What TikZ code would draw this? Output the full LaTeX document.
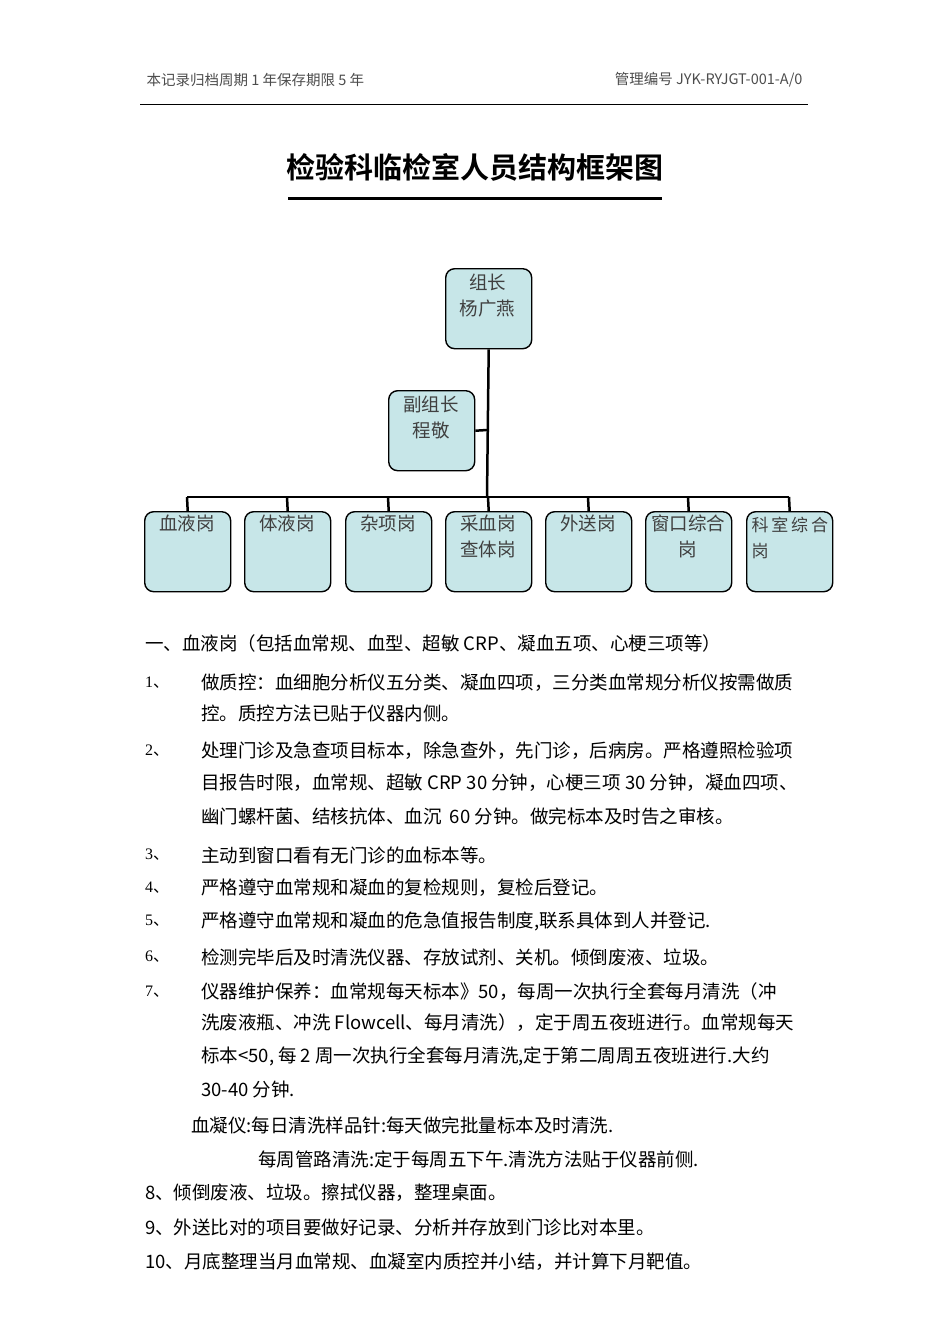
\documentclass[tikz,border=0pt]{standalone}
\usepackage{fontspec}
\newfontfamily\cjk{Noto Sans CJK SC}
\newfontfamily\cjkb{Noto Sans CJK SC Bold}
\setmainfont{Liberation Serif}
\definecolor{boxc}{HTML}{C7E6E8}
\begin{document}
\begin{tikzpicture}[x=1pt,y=-1pt,
  post/.style={draw,line width=1.4pt,fill=boxc,rounded corners=9pt,minimum width=86pt,minimum height=80pt,anchor=north west},
  lbl/.style={font=\cjk\fontsize{18.5}{26}\selectfont,color=black!75,align=center,anchor=north},
  conn/.style={line width=2.5pt},
  txt/.style={font=\cjk\fontsize{18.5}{33}\selectfont,anchor=west,inner sep=0},
  num/.style={font=\fontsize{16}{18}\selectfont,anchor=west,inner sep=0}]
\useasboundingbox (0,0) rectangle (950,1344);
\node[font=\cjk\fontsize{14.5}{16}\selectfont,color=black!70,anchor=west] (h1) at (143,80) {本记录归档周期 1 年保存期限 5 年};
\node[font=\cjk\fontsize{14.5}{16}\selectfont,color=black!70,anchor=east] (h2) at (806,80) {管理编号 JYK-RYJGT-001-A/0};
\draw[line width=1pt] (140,104) -- (808,104);
\node[font=\cjkb\fontsize{29}{34}\selectfont] (title) at (475,167) {检验科临检室人员结构框架图};
\draw[line width=3pt] (288,198) -- (662,198);
\node[post] (top) at (445,268) {};
\node[lbl] at (487.5,270) {组长\\杨广燕};
\node[post] (vice) at (388,390) {};
\node[lbl] at (431,392) {副组长\\程敬};
\draw[conn] (top.south) -- (487,497);
\draw[conn] (vice.east) -- (487,430);
\draw[conn] (187,497) -- (789,497);
\foreach \x/\n/\t in {144/b1/血液岗,244/b2/体液岗,345/b3/杂项岗,445/b4/采血岗\\查体岗,545/b5/外送岗,645/b6/窗口综合\\岗}{
  \node[post] (\n) at (\x,511) {};
  \draw[conn] (\x+43,497) -- (\n.north);
  \node[lbl] at (\x+43,511) {\t};
}
\node[post] (b7) at (746,511) {};
\draw[conn] (789,497) -- (b7.north);
\node[lbl,font=\cjk\fontsize{17}{26}\selectfont,anchor=north west,align=left] at (748,514) {科\,室\,综\,合\\岗};
\node[txt] (l0) at (145,643) {一、血液岗（包括血常规、血型、超敏 CRP、凝血五项、心梗三项等）};
\node[num] at (145,683) {1\cjk 、}; \node[txt] at (201,683) {做质控：血细胞分析仪五分类、凝血四项，三分类血常规分析仪按需做质};
\node[txt] at (201,713) {控。质控方法已贴于仪器内侧。};
\node[num] at (145,751) {2\cjk 、}; \node[txt] at (201,751) {处理门诊及急查项目标本，除急查外，先门诊，后病房。严格遵照检验项};
\node[txt] at (201,783) {目报告时限，血常规、超敏 CRP 30 分钟，心梗三项 30 分钟，凝血四项、};
\node[txt] at (201,816) {幽门螺杆菌、结核抗体、血沉\ \ 60 分钟。做完标本及时告之审核。};
\node[num] at (145,855) {3\cjk 、}; \node[txt] at (201,855) {主动到窗口看有无门诊的血标本等。};
\node[num] at (145,888) {4\cjk 、}; \node[txt] at (201,888) {严格遵守血常规和凝血的复检规则，复检后登记。};
\node[num] at (145,921) {5\cjk 、}; \node[txt] at (201,921) {严格遵守血常规和凝血的危急值报告制度,联系具体到人并登记.};
\node[num] at (145,957) {6\cjk 、}; \node[txt] at (201,957) {检测完毕后及时清洗仪器、存放试剂、关机。倾倒废液、垃圾。};
\node[num] at (145,992) {7\cjk 、}; \node[txt] at (201,992) {仪器维护保养：血常规每天标本》50，每周一次执行全套每月清洗（冲};
\node[txt] at (201,1023) {洗废液瓶、冲洗 Flowcell、每月清洗），定于周五夜班进行。血常规每天};
\node[txt] at (201,1056) {标本<50, 每\ 2\ 周一次执行全套每月清洗,定于第二周周五夜班进行.大约};
\node[txt] at (201,1090) {30-40 分钟.};
\node[txt] at (191,1125) {血凝仪:每日清洗样品针:每天做完批量标本及时清洗.};
\node[txt] at (258,1159) {每周管路清洗:定于每周五下午.清洗方法贴于仪器前侧.};
\node[txt] at (145,1193) {8、倾倒废液、垃圾。擦拭仪器，整理桌面。};
\node[txt] at (145,1227) {9、外送比对的项目要做好记录、分析并存放到门诊比对本里。};
\node[txt] at (145,1262) {10、月底整理当月血常规、血凝室内质控并小结，并计算下月靶值。};
\end{tikzpicture}
\end{document}
